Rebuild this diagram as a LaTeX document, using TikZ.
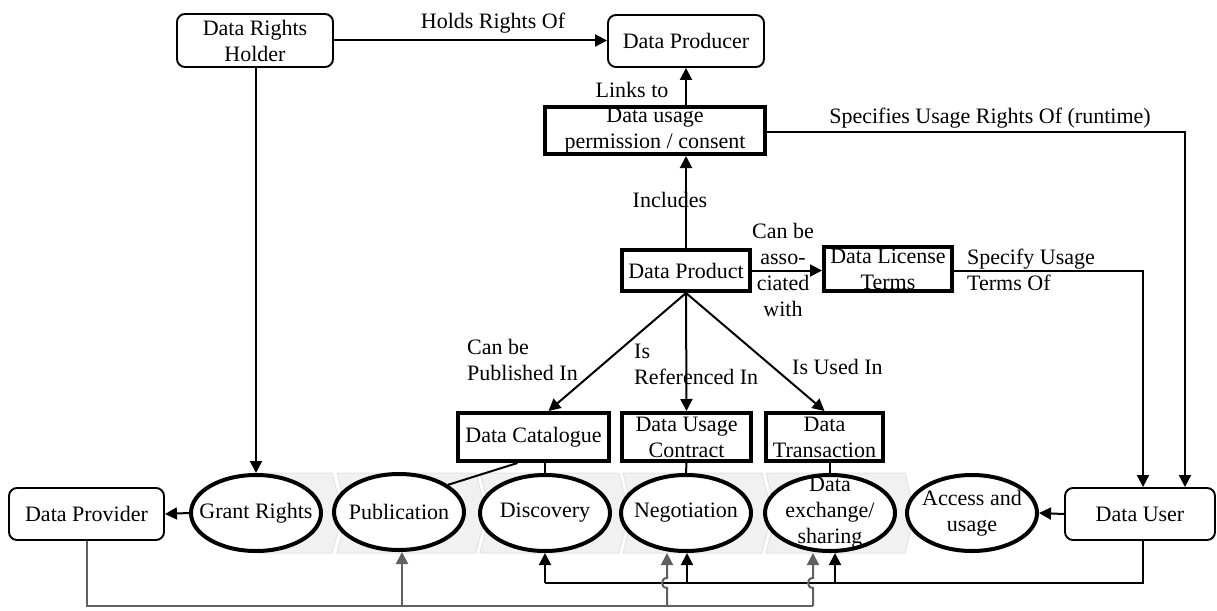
\documentclass[tikz,border=0pt]{standalone}
\usepackage{fontspec}
\setmainfont{Liberation Serif}
\usetikzlibrary{arrows.meta,calc,shapes.geometric}
\definecolor{gline}{HTML}{606060}
\definecolor{chevfill}{HTML}{F1F1F1}
\definecolor{chevdraw}{HTML}{E4E4E4}
\begin{document}
\begin{tikzpicture}[x=1pt,y=-1pt,
  every node/.style={font=\fontsize{22}{26}\selectfont},
  rbox/.style={draw, line width=1.9pt, rounded corners=8pt, align=center, inner sep=0pt},
  tbox/.style={draw, line width=4pt, align=center, inner sep=0pt},
  proc/.style={draw, ellipse, line width=4pt, fill=white, inner sep=0pt, minimum width=130pt, minimum height=76pt},
  conn/.style={line width=2pt},
  arr/.style={conn, -{Triangle[length=12pt,width=12pt]}},
  gl/.style={line width=2pt, draw=gline},
  garr/.style={gl, -{Triangle[length=12pt,width=12pt]}, gline},
  lbl/.style={align=left, inner sep=0pt},
  chev/.style={fill=chevfill, draw=chevdraw, line width=1pt}]
\useasboundingbox (0,0) rectangle (1217,610);

% chevrons
\fill[chevfill] (258,473) -- (332,473) -- (343,513) -- (332,553) -- (258,553) -- cycle;
\draw[chevdraw, line width=1pt] (258,473) -- (332,473) -- (343,513) -- (332,553) -- (258,553);
\foreach \t in {486,629,772,915}{
  \draw[chev] (\t-149,473) -- (\t-10,473) -- (\t,513) -- (\t-10,553) -- (\t-149,553) -- (\t-139,513) -- cycle;
}

% boxes
\node[rbox, minimum width=156pt, minimum height=53pt] (drh) at (255,40.5) {Data Rights\\Holder};
\node[rbox, minimum width=156pt, minimum height=52pt] (prod) at (686,41) {Data Producer};
\node[tbox, minimum width=220pt, minimum height=47pt] (perm) at (655,130.5) {Data usage\\permission / consent};
\node[tbox, minimum width=128pt, minimum height=41pt] (dprod) at (686,270.5) {Data Product};
\node[tbox, minimum width=128pt, minimum height=44pt] (lic) at (888,269) {Data License\\Terms};
\node[tbox, minimum width=151pt, minimum height=48pt] (cat) at (533.5,437) {\raisebox{5pt}{Data Catalogue}};
\node[tbox, minimum width=129pt, minimum height=48pt] (con) at (686.5,437) {Data Usage\\Contract};
\node[tbox, minimum width=117pt, minimum height=48pt] (tra) at (824.5,437) {Data\\Transaction};
\node[rbox, minimum width=155pt, minimum height=52pt] (dprov) at (86.5,514) {Data Provider};
\node[rbox, minimum width=150pt, minimum height=52pt] (du) at (1140,514) {Data User};

% process ellipses
\node[proc, label={[align=center]center:Grant Rights}] (grant) at (256,513) {};
\node[proc, label={[align=center]center:Publication}] (pub) at (399,512) {};
\node[proc, label={[align=center]center:Discovery}] (disc) at (545,513) {};
\node[proc, label={[align=center]center:Negotiation}] (neg) at (686,513) {};
\node[proc, label={[align=center]center:Data\\exchange/\\sharing}] (exch) at (830,513) {};
\node[proc, label={[align=center]center:Access and\\usage}] (acc) at (972,513) {};

% labels
\node[lbl] (lhold) at (493,23) {Holds Rights Of};
\node[lbl] (llink) at (632,90) {Links to};
\node[lbl] (linc) at (670,200) {Includes};
\node[lbl] (lspec) at (990,118) {Specifies Usage Rights Of (runtime)};
\node[align=center, inner sep=0pt] (lassoc) at (783,270) {Can be\\asso-\\ciated\\with};
\node[lbl, anchor=west] (lterms) at (967,270) {Specify Usage\\Terms Of};
\node[lbl, anchor=west] (lpubl) at (467,360) {Can be\\Published In};
\node[lbl, anchor=west] (lref) at (634,364) {Is\\Referenced In};
\node[lbl, anchor=west] (lused) at (792,367) {Is Used In};

% connectors
\draw[arr] (drh.east) -- (drh.east -| prod.west);
\draw[arr] (grant.north |- drh.south) -- (grant.north);
\draw[arr] (prod.south |- perm.north) -- (prod.south);
\draw[arr] (dprod.north) -- (dprod.north |- perm.south);
\draw[arr] (dprod.east) -- (dprod.east -| lic.west);
\draw[arr] ([yshift=-1.5pt]perm.east) -| ([xshift=45pt]du.north);
\draw[arr] ([yshift=-1.5pt]lic.east) -| ([xshift=3pt]du.north);
\draw[arr] (dprod.south) -- ([xshift=15pt]cat.north);
\draw[arr] (dprod.south) -- (con.north);
\draw[arr] (dprod.south) -- (tra.north);
\draw[conn] (disc.north |- cat.south) -- (disc.north);
\draw[conn] ([xshift=-16pt]cat.south) -- (pub.29);
\draw[conn] (con.south) -- (neg.north);
\draw[conn] (exch.north |- tra.south) -- (exch.north);
\draw[arr] (grant.west) -- (dprov.east);
\draw[arr] (du.west) -- (acc.east);

% bottom black feedback from Data User
\path ([xshift=3pt]du.south) ++(0,42) coordinate (b0);
\coordinate (bD) at (disc.south |- b0);
\coordinate (bN) at ([xshift=1pt]neg.south |- b0);
\coordinate (bE) at ([xshift=5pt]exch.south |- b0);
\draw[conn] ([xshift=3pt]du.south) -- (b0) -- (bD);
\draw[arr] (bD) -- (disc.south);
\draw[arr] (bN) -- ([xshift=1pt]neg.south);
\draw[arr] (bE) -- ([xshift=5pt]exch.south);

% bottom gray feed from Data Provider
\path (dprov.south) ++(0,65) coordinate (g0);
\coordinate (gP) at ([xshift=3pt]pub.south |- g0);
\coordinate (gN) at ([xshift=-19pt]neg.south |- g0);
\coordinate (gE) at ([xshift=-17pt]exch.south |- g0);
\draw[gl] (dprov.south) -- (g0) -- (gE);
\draw[garr] (gP) -- ([xshift=3pt]pub.south);
\draw[garr] (gN) -- ++(0,-18) .. controls +(-6.7,0) and +(-6.7,0) .. ++(0,-10) -- ([xshift=-19pt]neg.south);
\draw[garr] (gE) -- ++(0,-18) .. controls +(-6.7,0) and +(-6.7,0) .. ++(0,-10) -- ([xshift=-17pt]exch.south);
\end{tikzpicture}
\end{document}
